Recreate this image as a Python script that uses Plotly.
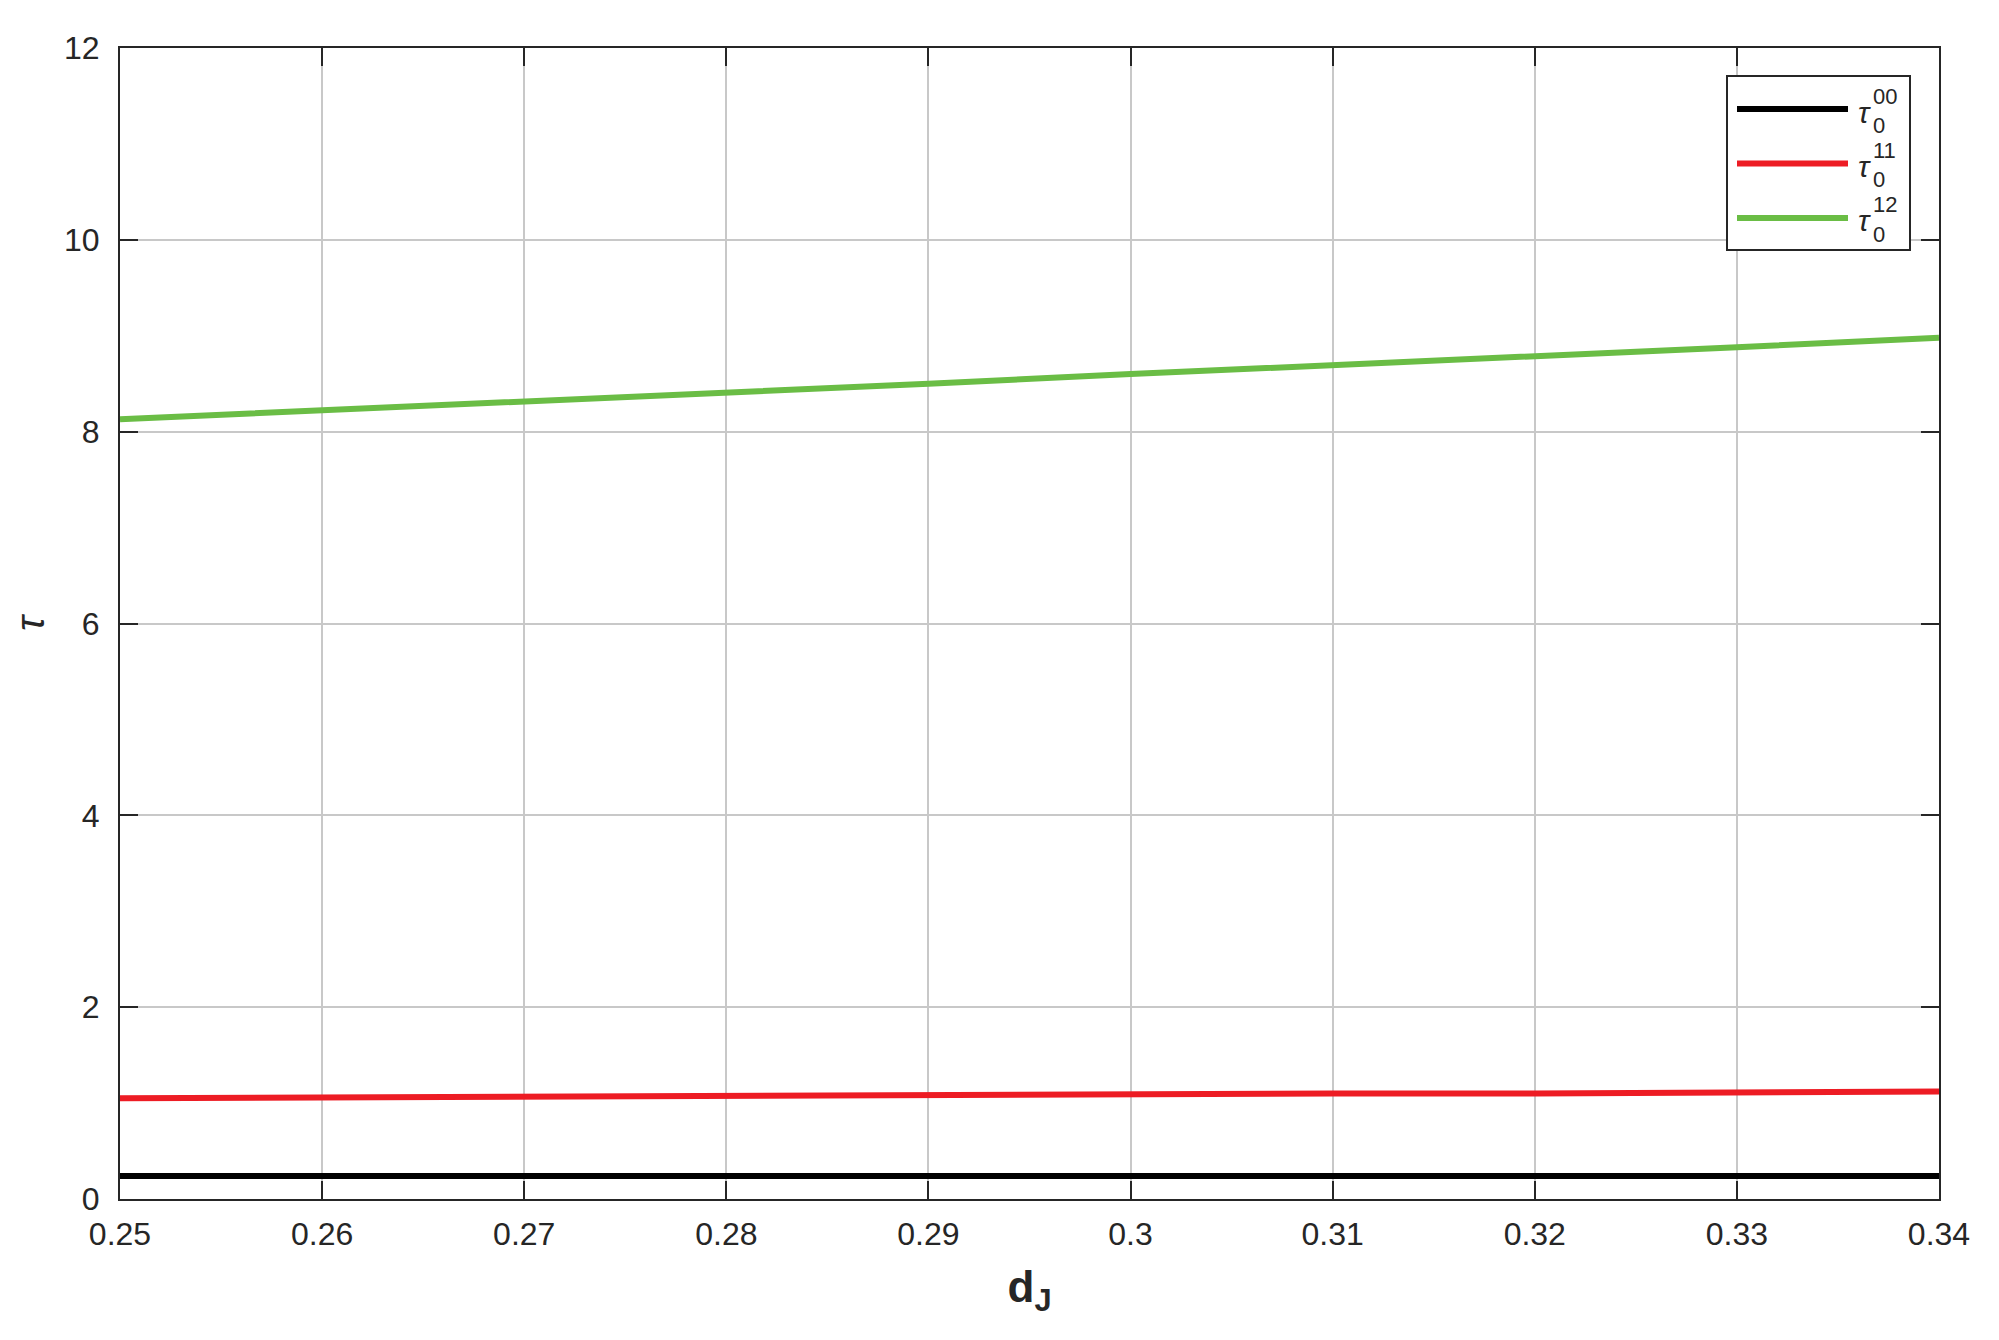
import plotly.graph_objects as go

# data
dJ = [0.25, 0.26, 0.27, 0.28, 0.29, 0.30, 0.31, 0.32, 0.33, 0.34]
tau00 = [0.24, 0.24, 0.24, 0.24, 0.24, 0.24, 0.24, 0.24, 0.24, 0.24]
tau11 = [1.05, 1.06, 1.07, 1.07, 1.08, 1.09, 1.10, 1.10, 1.11, 1.12]
tau12 = [8.13, 8.22, 8.32, 8.41, 8.50, 8.60, 8.69, 8.79, 8.88, 8.98]
x_ticks = [0.25, 0.26, 0.27, 0.28, 0.29, 0.30, 0.31, 0.32, 0.33, 0.34]
x_ticklabels = ["0.25", "0.26", "0.27", "0.28", "0.29", "0.3", "0.31", "0.32", "0.33", "0.34"]
y_ticks = [0, 2, 4, 6, 8, 10, 12]
series_sup = ["00", "11", "12"]
colors = ["#000000", "#ED1C24", "#6ABD45"]

OFF = 8  # default page body margin
W, H = 1999 - OFF, 1340 - OFF
L, R, T, B = 120 - OFF, 1939 - OFF, 48 - OFF, 1199 - OFF
FONT = "Liberation Sans, Arial, sans-serif"
AX = "#262626"

fig = go.Figure()
for ys, sup, c in zip([tau00, tau11, tau12], series_sup, colors):
    fig.add_trace(go.Scatter(x=dJ, y=ys, mode="lines", line=dict(color=c, width=6),
                             name="τ0" + sup, showlegend=False))

def px(xp):
    return (xp - OFF - L) / (R - L)

def py(yp):
    return (B - (yp - OFF)) / (B - T)

shapes = []
annotations = []
# legend box
shapes.append(dict(type="rect", xref="paper", yref="paper", x0=px(1727), x1=px(1910),
                   y0=py(250), y1=py(76), line=dict(color=AX, width=2), fillcolor="white",
                   layer="above"))
for i, (sup, c) in enumerate(zip(series_sup, colors)):
    yl = 109 + i * 54.5
    shapes.append(dict(type="line", xref="paper", yref="paper", x0=px(1737), x1=px(1848),
                       y0=py(yl), y1=py(yl), line=dict(color=c, width=6), layer="above"))
    annotations.append(dict(xref="paper", yref="paper", x=px(1864), y=py(yl + 3), text="<i>τ</i>",
                            showarrow=False, xanchor="center", yanchor="middle",
                            font=dict(family=FONT, size=30, color=AX)))
    annotations.append(dict(xref="paper", yref="paper", x=px(1871), y=py(yl - 13), text=sup,
                            showarrow=False, xanchor="left", yanchor="middle",
                            font=dict(family=FONT, size=22, color=AX)))
    annotations.append(dict(xref="paper", yref="paper", x=px(1871), y=py(yl + 16), text="0",
                            showarrow=False, xanchor="left", yanchor="middle",
                            font=dict(family=FONT, size=22, color=AX)))

fig.update_layout(
    width=W, height=H,
    margin=dict(l=L, r=W - R, t=T, b=H - B, autoexpand=False),
    paper_bgcolor="white", plot_bgcolor="white",
    shapes=shapes, annotations=annotations,
    font=dict(family=FONT, color=AX),
)
fig.update_xaxes(
    range=[0.25, 0.34], tickvals=x_ticks, ticktext=x_ticklabels,
    showgrid=True, gridcolor="#C8C8C8", gridwidth=2,
    showline=True, linecolor=AX, linewidth=2, mirror="ticks",
    ticks="inside", ticklen=18, tickwidth=2, tickcolor=AX,
    tickfont=dict(size=32, color=AX, family=FONT), ticklabelstandoff=6,
    zeroline=False,
    title=dict(text="<b>d<sub>J</sub></b>", font=dict(size=44, color=AX, family=FONT), standoff=20),
)
fig.update_yaxes(
    range=[0, 12], tickvals=y_ticks,
    showgrid=True, gridcolor="#C8C8C8", gridwidth=2,
    showline=True, linecolor=AX, linewidth=2, mirror="ticks",
    ticks="inside", ticklen=18, tickwidth=2, tickcolor=AX,
    tickfont=dict(size=32, color=AX, family=FONT), ticklabelstandoff=12,
    zeroline=False,
    title=dict(text="<i>τ</i>", font=dict(size=40, color=AX, family=FONT), standoff=22),
)
fig.write_html("out.html")
